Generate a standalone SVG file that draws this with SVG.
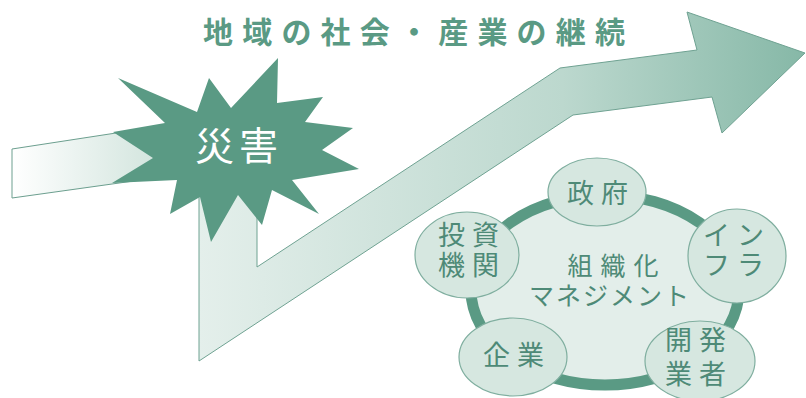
<svg xmlns="http://www.w3.org/2000/svg" width="806" height="398" viewBox="0 0 806 398">
  <defs>
    <linearGradient id="gBar" x1="0" y1="0" x2="1" y2="0">
      <stop offset="0" stop-color="#ffffff"/>
      <stop offset="1" stop-color="#d3e5de"/>
    </linearGradient>
    <linearGradient id="gArrow" gradientUnits="userSpaceOnUse" x1="199" y1="0" x2="805" y2="0">
      <stop offset="0" stop-color="#e4efeb"/>
      <stop offset="0.6" stop-color="#bcd8ce"/>
      <stop offset="1" stop-color="#86b8a7"/>
    </linearGradient>
    <style>
      .jp { font-family: "Noto Sans CJK JP", "Noto Sans CJK SC", sans-serif; }
      .sat { fill: #d6e7e0; stroke: #7fae9f; stroke-width: 1.2; }
      .satText { fill: #4e8a77; font-size: 27px; text-anchor: middle; letter-spacing: 7px; }
    </style>
  </defs>
  <rect width="806" height="398" fill="#ffffff"/>

  <text id="title" class="jp" x="203" y="43" font-size="30" font-weight="bold" fill="#5a9a84" textLength="422" lengthAdjust="spacing">地域の社会・産業の継続</text>

  <g id="connectors">
    <path id="leftBar" d="M12,149 L155,127 L155,178 L12,198 Z" fill="url(#gBar)" stroke="#6c9f8f" stroke-width="1"/>
    <path id="mainArrow" d="M199,150 L199,361 L573,115 L712,97 L722,133 L805,53 L687,12 L697,50 L560,68 L257,267 L257,150 Z" fill="url(#gArrow)" stroke="#6fa292" stroke-width="1"/>
  </g>

  <g id="disaster">
    <polygon points="278,58 277,103 323,97 305,122 353,128 322,150 359,169 292,180 319,214 272,190 262,225 238,195 211,242 200,197 170,214 177,180 112,183 153,158 113,132 165,123 118,78 197,112 209,78 231,108" fill="#5a9a84"/>
    <text class="jp" x="239" y="160" font-size="39" fill="#ffffff" text-anchor="middle" letter-spacing="5">災害</text>
  </g>

  <g id="management">
    <ellipse cx="605" cy="290" rx="134" ry="95" fill="#e3eeea" stroke="#5a9a84" stroke-width="11"/>
    <text class="jp" font-size="25" fill="#4e8a77" text-anchor="middle"><tspan x="617" y="275" letter-spacing="8">組織化</tspan><tspan x="610" y="305" letter-spacing="2">マネジメント</tspan></text>
  </g>

  <g id="government">
    <ellipse class="sat" cx="597" cy="192" rx="49" ry="34"/>
    <text class="jp satText" x="601" y="203">政府</text>
  </g>
  <g id="infra">
    <ellipse class="sat" cx="737" cy="256" rx="49" ry="47"/>
    <text class="jp satText"><tspan x="737" y="245">イン</tspan><tspan x="737" y="275">フラ</tspan></text>
  </g>
  <g id="investor">
    <ellipse class="sat" cx="467" cy="255" rx="52" ry="43"/>
    <text class="jp satText"><tspan x="472" y="245">投資</tspan><tspan x="472" y="275">機関</tspan></text>
  </g>
  <g id="company">
    <ellipse class="sat" cx="513" cy="357" rx="54" ry="39"/>
    <text class="jp satText" x="517" y="365">企業</text>
  </g>
  <g id="developer">
    <ellipse class="sat" cx="700" cy="361" rx="55" ry="40"/>
    <text class="jp satText"><tspan x="699" y="350">開発</tspan><tspan x="699" y="384">業者</tspan></text>
  </g>
</svg>
